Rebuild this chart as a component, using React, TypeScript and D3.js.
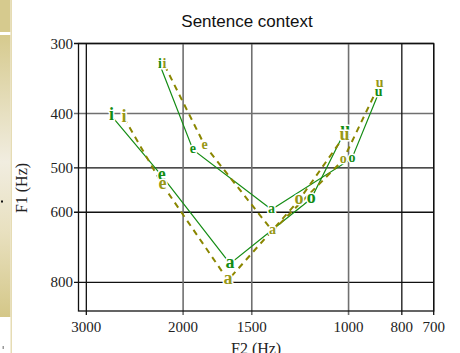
import React from "react";
import * as d3 from "d3";

const vowels = ["i", "e", "a", "o", "u"];

// Large-label series (green solid / olive dashed)
const greenLargeF2 = [2700, 2188, 1643, 1169, 1014];
const greenLargeF1 = [404, 516, 741, 567, 429];
const oliveLargeF2 = [2562, 2180, 1657, 1231, 1017];
const oliveLargeF1 = [407, 536, 793, 571, 438];

// Small-label series
const greenSmallF2 = [2203, 1919, 1381, 986, 882];
const greenSmallF1 = [328, 464, 593, 481, 368];
const oliveSmallF2 = [2162, 1827, 1375, 1023, 878];
const oliveSmallF1 = [328, 456, 648, 484, 354];

const xTicks = [3000, 2000, 1500, 1000, 800, 700];
const yTicks = [300, 400, 500, 600, 800];
const grayX = [2000, 1500, 1000];
const grayY = [400];

const W = 460;
const H = 353;
const GREEN = "#148c14";
const OLIVE_TXT = "#979716";
const OLIVE_LINE = "#8a8600";

export default function App() {
  const x = d3.scaleLog().domain([3100, 700]).range([78.5, 433.7]);
  const y = d3.scaleLog().domain([300, 900]).range([43.5, 311]);
  const [x0, x1] = x.range();
  const [y0, y1] = y.range();

  const line = d3
    .line<[number, number]>()
    .x((d) => x(d[0]))
    .y((d) => y(d[1]));

  const series = [
    { f2: greenLargeF2, f1: greenLargeF1, color: GREEN, txt: GREEN, dash: null, fs: 18 },
    { f2: greenSmallF2, f1: greenSmallF1, color: GREEN, txt: GREEN, dash: null, fs: 14 },
    { f2: oliveLargeF2, f1: oliveLargeF1, color: OLIVE_LINE, txt: OLIVE_TXT, dash: "6,5", fs: 18 },
    { f2: oliveSmallF2, f1: oliveSmallF1, color: OLIVE_LINE, txt: OLIVE_TXT, dash: "6,5", fs: 14 },
  ];

  return (
    <svg
      width={W}
      height={H}
      style={{ position: "absolute", left: 0, top: 0, background: "#fff" }}
    >
      <defs>
        <linearGradient id="bar" x1="0" y1="0" x2="0" y2="1">
          <stop offset="0" stopColor="#d6ca8e" />
          <stop offset="0.45" stopColor="#f1ede0" />
          <stop offset="0.7" stopColor="#e8e0bf" />
          <stop offset="1" stopColor="#d4c788" />
        </linearGradient>
      </defs>
      {/* decorative left bar */}
      <rect x={0} y={0} width={10.5} height={32} fill="#d6ca8e" />
      <rect x={0} y={35} width={10.5} height={282} fill="url(#bar)" />
      <rect x={10.5} y={0} width={1.5} height={H} fill="#e6dcb4" />
      <rect x={1} y={200.5} width={2} height={2} fill="#111" />
      <rect x={2.5} y={346} width={1.5} height={3} fill="#999" />

      {/* title */}
      <text
        x={247}
        y={27}
        textAnchor="middle"
        fontFamily="'Liberation Sans', Arial, sans-serif"
        fontSize={17}
        fill="#111"
      >
        Sentence context
      </text>

      {/* grid */}
      {yTicks.map((t) => (
        <line
          key={"gy" + t}
          x1={74}
          x2={x1}
          y1={y(t)}
          y2={y(t)}
          stroke={grayY.includes(t) ? "#707070" : "#111"}
          strokeWidth={grayY.includes(t) ? 1.6 : 1.3}
        />
      ))}
      {xTicks.map((t) => (
        <line
          key={"gx" + t}
          x1={x(t)}
          x2={x(t)}
          y1={y0}
          y2={y1 + 4}
          stroke={grayX.includes(t) ? "#707070" : "#111"}
          strokeWidth={grayX.includes(t) ? 1.6 : 1.3}
        />
      ))}
      <rect
        x={x0}
        y={y0}
        width={x1 - x0}
        height={y1 - y0}
        fill="none"
        stroke="#111"
        strokeWidth={1.3}
      />

      {/* tick labels */}
      {yTicks.map((t) => (
        <text
          key={"ly" + t}
          x={73}
          y={y(t) + 5}
          textAnchor="end"
          fontFamily="'Liberation Serif', 'Times New Roman', serif"
          fontSize={15}
          fill="#222"
        >
          {t}
        </text>
      ))}
      {xTicks.map((t) => (
        <text
          key={"lx" + t}
          x={x(t)}
          y={332}
          textAnchor="middle"
          fontFamily="'Liberation Serif', 'Times New Roman', serif"
          fontSize={15}
          fill="#222"
        >
          {t}
        </text>
      ))}

      {/* axis titles */}
      <text
        x={(x0 + x1) / 2}
        y={354}
        textAnchor="middle"
        fontFamily="'Liberation Serif', 'Times New Roman', serif"
        fontSize={16}
        fill="#222"
      >
        F2 (Hz)
      </text>
      <text
        transform={`translate(27, 188) rotate(-90)`}
        textAnchor="middle"
        fontFamily="'Liberation Serif', 'Times New Roman', serif"
        fontSize={16}
        fill="#222"
      >
        F1 (Hz)
      </text>

      {/* lines */}
      {series.map((s, i) => (
        <path
          key={"p" + i}
          d={line(s.f2.map((v, j) => [v, s.f1[j]] as [number, number])) || ""}
          fill="none"
          stroke={s.color}
          strokeWidth={s.dash ? 2 : 1.2}
          strokeDasharray={s.dash || undefined}
        />
      ))}

      {/* labels */}
      {series.map((s, i) =>
        s.f2.map((v, j) => (
          <text
            key={"t" + i + "-" + j}
            x={x(v)}
            y={y(s.f1[j]) + s.fs * 0.23}
            textAnchor="middle"
            fontFamily="'Liberation Serif', 'Times New Roman', serif"
            fontWeight="bold"
            fontSize={s.fs}
            fill={s.txt}
            stroke="#fff"
            strokeWidth={3}
            strokeLinejoin="round"
            paintOrder="stroke"
          >
            {vowels[j]}
          </text>
        ))
      )}
    </svg>
  );
}
